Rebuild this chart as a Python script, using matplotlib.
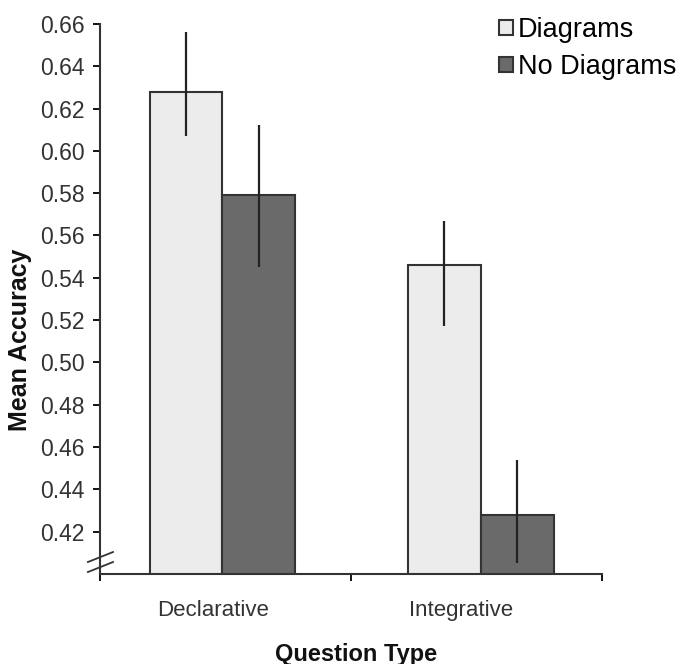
import matplotlib.pyplot as plt
import numpy as np

plt.rcParams['font.family'] = ['Liberation Sans', 'DejaVu Sans']

categories = ["Declarative", "Integrative"]
series = ["Diagrams", "No Diagrams"]
means = {"Diagrams": [0.628, 0.546], "No Diagrams": [0.579, 0.428]}
err_low = {"Diagrams": [0.607, 0.517], "No Diagrams": [0.545, 0.405]}
err_high = {"Diagrams": [0.656, 0.567], "No Diagrams": [0.612, 0.454]}
yticks = [0.42, 0.44, 0.46, 0.48, 0.50, 0.52, 0.54, 0.56, 0.58, 0.60, 0.62, 0.64, 0.66]
colors = {"Diagrams": "#ececec", "No Diagrams": "#6a6a6a"}

fig = plt.figure(figsize=(6.8, 6.64), dpi=100)
ax = fig.add_axes([0.147, 0.1355, 0.738, 0.8285])

x = np.arange(len(categories))
centers = x + np.array([-0.012, 0.018])
width = 0.29
for i, s in enumerate(series):
    pos = centers + (i - 0.5) * width
    ax.bar(pos, means[s], width, color=colors[s], edgecolor="#333333",
           linewidth=1.5, label=s, zorder=2)
    ax.vlines(pos, err_low[s], err_high[s], color="#222222", linewidth=1.6, zorder=3)

ax.set_ylim(0.40, 0.66)
ax.set_xlim(-0.5, 1.5)
ax.set_yticks(yticks)
ax.set_yticklabels([f"{v:.2f}" for v in yticks], fontsize=16.5, color="#333333")
# category labels sit a little left of the bar pairs in the original
ax.set_xticks(x + np.array([-0.05, -0.062]))
ax.set_xticklabels(categories, fontsize=16, color="#333333")
ax.set_xticks([-0.5, 0.5, 1.5], minor=True)
ax.tick_params(axis="x", which="major", length=0, pad=19)
ax.tick_params(axis="x", which="minor", length=5, width=1.3, direction="out")
ax.tick_params(axis="y", length=5, width=1.3, pad=6)

for side in ["top", "right"]:
    ax.spines[side].set_visible(False)
for side in ["left", "bottom"]:
    ax.spines[side].set_linewidth(1.5)
    ax.spines[side].set_color("#333333")

# axis break marks
for y0 in [0.0036, 0.0218]:
    ax.plot([-0.024, 0.026], [y0, y0 + 0.0182],
            transform=ax.transAxes, color="#333333", linewidth=1.3, clip_on=False)

fig.text(20 / 680, 1 - 340 / 664, "Mean Accuracy", rotation=90, fontsize=18,
         fontweight="bold", ha="center", va="center", color="#111111")
fig.text(356 / 680, 1 - 654 / 664, "Question Type", fontsize=17,
         fontweight="bold", ha="center", va="center", color="#111111")

ax.legend(loc="upper left", bbox_to_anchor=(0.734, 0.974), bbox_transform=fig.transFigure,
          frameon=False, fontsize=19.5, handlelength=0.5, handleheight=0.5,
          handletextpad=0.2, labelspacing=0.4, borderpad=0, borderaxespad=0)

fig.savefig("out.png", dpi=100)
